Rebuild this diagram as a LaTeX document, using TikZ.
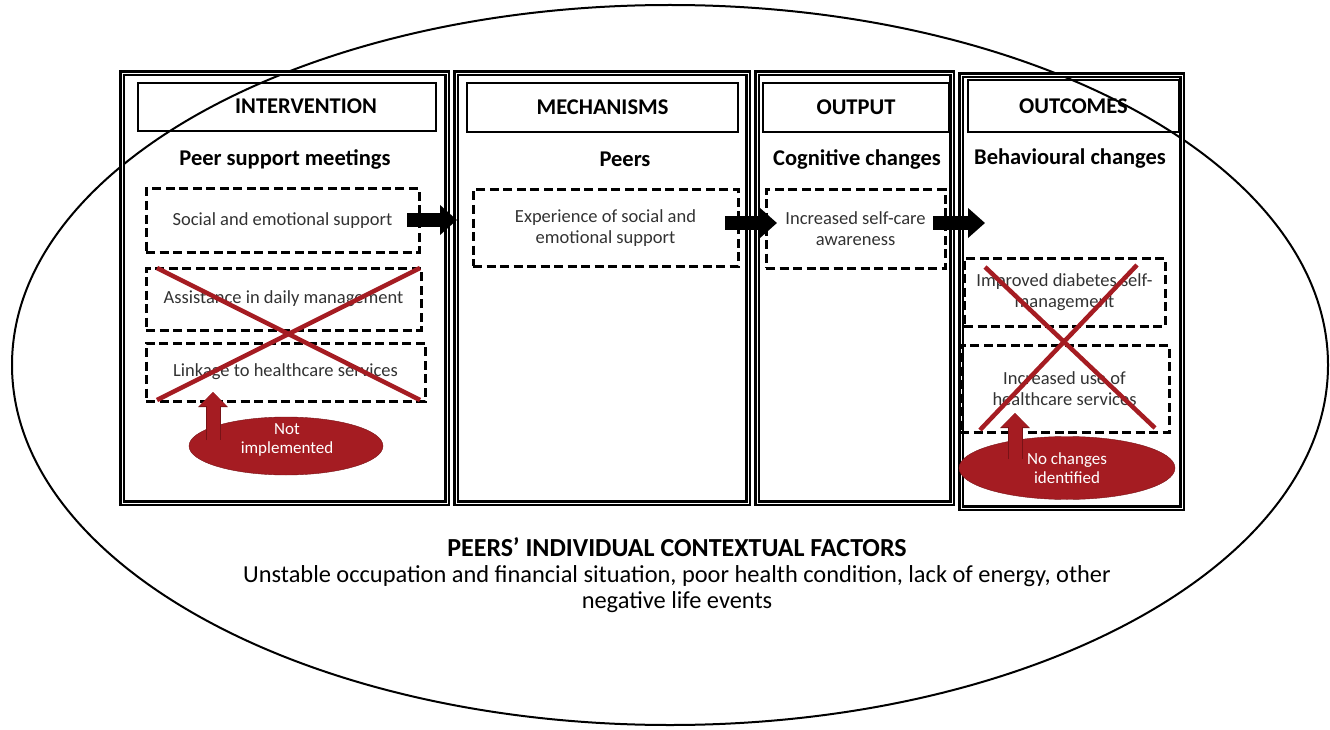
\documentclass[tikz,border=0pt]{standalone}
\usepackage{fontspec}
\setmainfont{Carlito}
\usetikzlibrary{arrows.meta,shapes.geometric}

\definecolor{crossred}{RGB}{165,28,34}
\definecolor{darkred}{RGB}{120,18,22}
\definecolor{boxgray}{RGB}{50,50,50}

\tikzstyle{context}=[draw, ellipse, line width=2pt, inner sep=0pt]
\tikzstyle{colbox}=[draw, line width=2.3pt, double, double distance=0.7pt, inner sep=0pt]
\tikzstyle{headbox}=[draw, line width=2.6pt, inner sep=0pt, font=\fontsize{22.5}{26}\selectfont\bfseries]
\tikzstyle{subtitle}=[font=\fontsize{22.5}{26}\selectfont\bfseries]
\tikzstyle{dbox}=[draw, line width=3pt, dash pattern=on 9pt off 4.5pt, inner sep=0pt, align=center, text=boxgray, font=\fontsize{18.5}{21}\selectfont]
\tikzstyle{redell}=[ellipse, fill=crossred, draw=darkred, inner sep=0pt, align=center, text=white, font=\fontsize{17}{19}\selectfont]
\tikzstyle{cross}=[draw=crossred, line width=4.5pt]
\tikzstyle{blockarrow}=[line width=13pt, -{Triangle[length=17pt,width=29pt]}]
\tikzstyle{redarrow}=[crossred, line width=13pt, -{Triangle[length=14pt,width=26pt]},
  preaction={draw=darkred, line width=15pt, -{Triangle[length=15pt,width=29pt]}}]

\begin{document}
\begin{tikzpicture}[x=1pt,y=-1pt]
\useasboundingbox (0,0) rectangle (1330,730);

% contextual factors
\node[context, minimum width=1316pt, minimum height=720pt] (ctx) at (670,365) {};
\node[font=\fontsize{26}{30}\selectfont\bfseries] (ctxtitle) at (677,547) {PEERS’ INDIVIDUAL CONTEXTUAL FACTORS};
\node[align=center, font=\fontsize{24.4}{26.5}\selectfont] (ctxtext) at (677,589)
  {Unstable occupation and financial situation, poor health condition, lack of energy, other\\negative life events};

% columns
\node[colbox, minimum width=325pt, minimum height=430pt] (intcol) at (284.5,288) {};
\node[colbox, minimum width=292pt, minimum height=430pt] (mechcol) at (602,288) {};
\node[colbox, minimum width=195pt, minimum height=430pt] (outcol) at (854.5,288) {};
\node[colbox, minimum width=221pt, minimum height=433pt] (outccol) at (1071.5,291.5) {};

% headers
\node[headbox, minimum width=298pt, minimum height=48pt] (inthead) at (287,107) {};
\node[font=\fontsize{22.5}{26}\selectfont\bfseries] (intlabel) at (306,106) {INTERVENTION};
\node[headbox, minimum width=271pt, minimum height=49pt] (mechhead) at (602.5,107.5) {MECHANISMS};
\node[headbox, minimum width=186pt, minimum height=49pt] (outhead) at (856,107.5) {OUTPUT};
\node[headbox, minimum width=211pt, minimum height=52pt] (outchead) at (1073.5,106) {OUTCOMES};

\node[subtitle] (intsub) at (285,159) {Peer support meetings};
\node[subtitle] (mechsub) at (625,159) {Peers};
\node[subtitle] (outsub) at (857,159) {Cognitive changes};
\node[subtitle] (outcsub) at (1070,159) {Behavioural changes};

% dashed boxes
\node[dbox, minimum width=273pt, minimum height=63pt] (sesup) at (282.5,220.5) {Social and emotional support};
\node[dbox, minimum width=275pt, minimum height=62pt] (assist) at (283.5,299) {Assistance in daily management};
\node[dbox, minimum width=279pt, minimum height=58pt] (link) at (285.5,372) {Linkage to healthcare services};
\node[dbox, minimum width=265pt, minimum height=76pt] (exper) at (605.5,228) {Experience of social and\\emotional support};
\node[dbox, minimum width=179pt, minimum height=78pt] (aware) at (855.5,229) {Increased self-care\\awareness};
\node[dbox, minimum width=201pt, minimum height=68pt] (selfman) at (1064.5,292) {Improved diabetes self-\\management};
\node[dbox, minimum width=209pt, minimum height=87pt] (useserv) at (1064.5,388.5) {Increased use of\\healthcare services};

% block arrows
\coordinate (a1s) at (407,220);
\coordinate (a1e) at (457,220);
\coordinate (a2s) at (725,223);
\coordinate (a2e) at (777,223);
\coordinate (a3s) at (933,223);
\coordinate (a3e) at (985,223);
\draw[blockarrow] (a1s) -- (a1e);
\draw[blockarrow] (a2s) -- (a2e);
\draw[blockarrow] (a3s) -- (a3e);

% not implemented / no changes
\draw[cross] (157,268) -- (420,400);
\draw[cross] (420,268) -- (157,400);
\draw[cross] (980,430) -- (1137,265);
\draw[cross] (985,267) -- (1155,428);

\node[redell, minimum width=194pt, minimum height=58pt] (notimp) at (286,446) {};
\node[align=center, text=white, font=\fontsize{17}{19}\selectfont] (notimptext) at (287,440) {Not\\implemented};
\node[redell, minimum width=216pt, minimum height=63pt] (nochange) at (1067,468) {No changes\\identified};

\coordinate (niarr) at (213,440);
\coordinate (nitip) at (213,392);
\coordinate (ncarr) at (1015,459);
\coordinate (nctip) at (1015,413);
\draw[redarrow] (niarr) -- (nitip);
\draw[redarrow] (ncarr) -- (nctip);

\end{tikzpicture}
\end{document}
